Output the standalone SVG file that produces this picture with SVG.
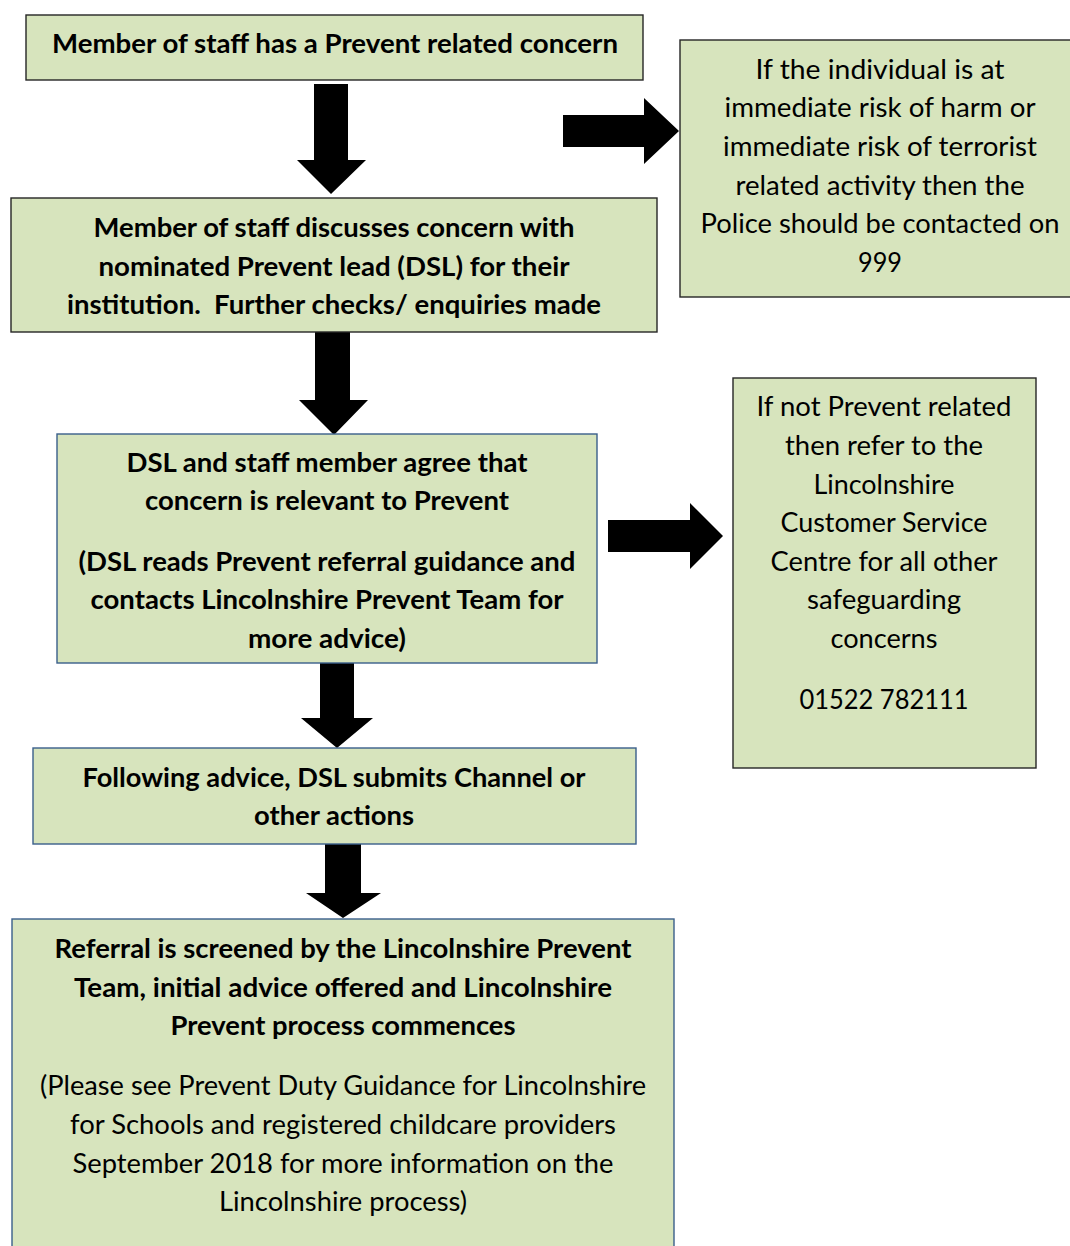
<svg xmlns="http://www.w3.org/2000/svg" width="1070" height="1246" viewBox="0 0 1070 1246">
<style>
.box{fill:#d7e4bd;stroke:#262626;stroke-width:1.4}
.bbox{fill:#d7e4bd;stroke:#3a5f8b;stroke-width:1.4}
.t{font-family:Lato,"Liberation Sans",sans-serif;font-size:27px;fill:#000;text-anchor:middle}
.b{font-weight:bold}
.arr{fill:#000}
</style>
<rect width="1070" height="1246" fill="#fff"/>
<g id="connectors">
<polygon class="arr" points="314,84 348,84 348,160 366,160 331,194 297,160 314,160"/>
<polygon class="arr" points="563,115 644,115 644,98 679,131 644,164 644,147 563,147"/>
<polygon class="arr" points="315,326 350,326 350,400 368,400 334,435 299,400 315,400"/>
<polygon class="arr" points="608,520 690,520 690,503 723,536 690,569 690,552 608,552"/>
<polygon class="arr" points="320,663 354,663 354,718 373,718 337,748 301,718 320,718"/>
<polygon class="arr" points="325,844 361,844 361,893 381,893 343,918 306,893 325,893"/>
</g>
<g id="n1">
<rect class="box" x="26" y="15" width="617" height="65"/>
<text class="t b" x="335" y="53" textLength="566" lengthAdjust="spacingAndGlyphs">Member of staff has a Prevent related concern</text>
</g>
<g id="n2">
<rect class="box" x="680" y="40" width="400" height="257"/>
<text class="t" x="880" y="79" textLength="249" lengthAdjust="spacingAndGlyphs">If the individual is at</text>
<text class="t" x="880" y="117" textLength="311" lengthAdjust="spacingAndGlyphs">immediate risk of harm or</text>
<text class="t" x="880" y="156" textLength="314" lengthAdjust="spacingAndGlyphs">immediate risk of terrorist</text>
<text class="t" x="880" y="195" textLength="289" lengthAdjust="spacingAndGlyphs">related activity then the</text>
<text class="t" x="880" y="233" textLength="359" lengthAdjust="spacingAndGlyphs">Police should be contacted on</text>
<text class="t" x="880" y="272" textLength="44" lengthAdjust="spacingAndGlyphs">999</text>
</g>
<g id="n3">
<rect class="box" x="11" y="198" width="646" height="134"/>
<text class="t b" x="334" y="237" textLength="481" lengthAdjust="spacingAndGlyphs">Member of staff discusses concern with</text>
<text class="t b" x="334" y="276" textLength="471" lengthAdjust="spacingAndGlyphs">nominated Prevent lead (DSL) for their</text>
<text class="t b" x="334" y="314" textLength="534" lengthAdjust="spacingAndGlyphs">institution.&#160; Further checks/ enquiries made</text>
</g>
<g id="n4">
<rect class="bbox" x="57" y="434" width="540" height="229"/>
<text class="t b" x="327" y="472" textLength="401" lengthAdjust="spacingAndGlyphs">DSL and staff member agree that</text>
<text class="t b" x="327" y="510" textLength="364" lengthAdjust="spacingAndGlyphs">concern is relevant to Prevent</text>
<text class="t b" x="327" y="571" textLength="497" lengthAdjust="spacingAndGlyphs">(DSL reads Prevent referral guidance and</text>
<text class="t b" x="327" y="609" textLength="473" lengthAdjust="spacingAndGlyphs">contacts Lincolnshire Prevent Team for</text>
<text class="t b" x="327" y="648" textLength="158" lengthAdjust="spacingAndGlyphs">more advice)</text>
</g>
<g id="n5">
<rect class="box" x="733" y="378" width="303" height="390"/>
<text class="t" x="884" y="416" textLength="255" lengthAdjust="spacingAndGlyphs">If not Prevent related</text>
<text class="t" x="884" y="455" textLength="198" lengthAdjust="spacingAndGlyphs">then refer to the</text>
<text class="t" x="884" y="494" textLength="141" lengthAdjust="spacingAndGlyphs">Lincolnshire</text>
<text class="t" x="884" y="532" textLength="207" lengthAdjust="spacingAndGlyphs">Customer Service</text>
<text class="t" x="884" y="571" textLength="227" lengthAdjust="spacingAndGlyphs">Centre for all other</text>
<text class="t" x="884" y="609" textLength="154" lengthAdjust="spacingAndGlyphs">safeguarding</text>
<text class="t" x="884" y="648" textLength="107" lengthAdjust="spacingAndGlyphs">concerns</text>
<text class="t" x="884" y="709" textLength="169" lengthAdjust="spacingAndGlyphs">01522 782111</text>
</g>
<g id="n6">
<rect class="bbox" x="33" y="748" width="603" height="96"/>
<text class="t b" x="334" y="787" textLength="503" lengthAdjust="spacingAndGlyphs">Following advice, DSL submits Channel or</text>
<text class="t b" x="334" y="825" textLength="160" lengthAdjust="spacingAndGlyphs">other actions</text>
</g>
<g id="n7">
<rect class="bbox" x="12" y="919" width="662" height="340"/>
<text class="t b" x="343" y="958" textLength="577" lengthAdjust="spacingAndGlyphs">Referral is screened by the Lincolnshire Prevent</text>
<text class="t b" x="343" y="997" textLength="538" lengthAdjust="spacingAndGlyphs">Team, initial advice offered and Lincolnshire</text>
<text class="t b" x="343" y="1035" textLength="345" lengthAdjust="spacingAndGlyphs">Prevent process commences</text>
<text class="t" x="343" y="1095" textLength="606" lengthAdjust="spacingAndGlyphs">(Please see Prevent Duty Guidance for Lincolnshire</text>
<text class="t" x="343" y="1134" textLength="546" lengthAdjust="spacingAndGlyphs">for Schools and registered childcare providers</text>
<text class="t" x="343" y="1173" textLength="541" lengthAdjust="spacingAndGlyphs">September 2018 for more information on the</text>
<text class="t" x="343" y="1211" textLength="248" lengthAdjust="spacingAndGlyphs">Lincolnshire process)</text>
</g>
</svg>
